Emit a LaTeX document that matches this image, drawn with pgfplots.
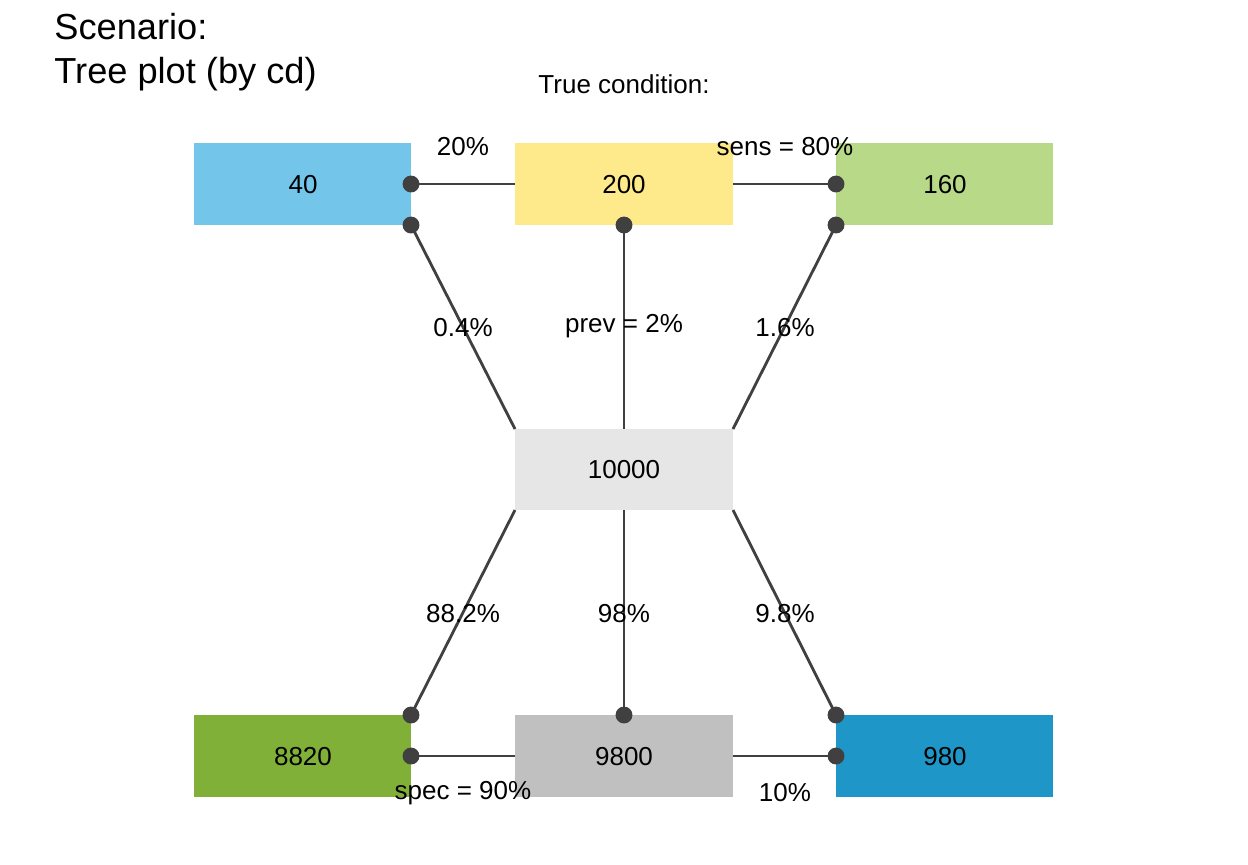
\documentclass[border=0pt]{standalone}
\usepackage{pgfplots}
\pgfplotsset{compat=1.18}
\usepackage{fontspec}
\setmainfont{Liberation Sans}
\definecolor{c1}{HTML}{73C6EA}
\definecolor{c2}{HTML}{FEEA8A}
\definecolor{c3}{HTML}{B8DA88}
\definecolor{c4}{HTML}{E6E6E6}
\definecolor{c5}{HTML}{80B038}
\definecolor{c6}{HTML}{C0C0C0}
\definecolor{c7}{HTML}{1E96C8}
\definecolor{ln}{HTML}{404040}
\newcommand{\bx}[5]{\addplot[fill=#5,draw=none] coordinates {(#1,#3) (#2,#3) (#2,#4) (#1,#4)} --cycle;}
\begin{document}
\begin{tikzpicture}
\begin{axis}[scale only axis,width=12.48cm,height=8.64cm,xmin=0,xmax=1248,ymin=0,ymax=864,y dir=reverse,hide axis,clip=false]
\addplot[fill=white,draw=none] coordinates {(0,0) (1248,0) (1248,864) (0,864)} --cycle;
\bx{194}{411}{143}{225}{c1}
\bx{515}{733}{143}{225}{c2}
\bx{836}{1053}{143}{225}{c3}
\bx{515}{733}{429}{510}{c4}
\bx{194}{411}{715}{797}{c5}
\bx{515}{733}{715}{797}{c6}
\bx{836}{1053}{715}{797}{c7}
\addplot[ln,thick] coordinates {(411,184) (515,184)};
\addplot[ln,thick] coordinates {(733,184) (836,184)};
\addplot[ln,thick] coordinates {(411,225) (515,429)};
\addplot[ln,thick] coordinates {(624,225) (624,429)};
\addplot[ln,thick] coordinates {(836,225) (733,429)};
\addplot[ln,thick] coordinates {(515,510) (411,715)};
\addplot[ln,thick] coordinates {(624,510) (624,715)};
\addplot[ln,thick] coordinates {(733,510) (836,715)};
\addplot[ln,thick] coordinates {(411,756) (515,756)};
\addplot[ln,thick] coordinates {(733,756) (836,756)};
\addplot[only marks,mark=*,mark size=2.2pt,color=ln] coordinates {(411,184) (836,184) (411,225) (624,225) (836,225) (411,715) (624,715) (836,715) (411,756) (836,756)};
\begin{scope}[font=\fontsize{7.4}{9}\selectfont]
\node at (axis cs:303,185) {40};
\node at (axis cs:624,185) {200};
\node at (axis cs:945,185) {160};
\node at (axis cs:624,470) {10000};
\node at (axis cs:303,757) {8820};
\node at (axis cs:624,757) {9800};
\node at (axis cs:945,757) {980};
\node at (axis cs:463,147) {20\%};
\node at (axis cs:785,147) {sens = 80\%};
\node at (axis cs:463,328) {0.4\%};
\node at (axis cs:624,326) {prev = 2\%};
\node at (axis cs:785,328) {1.6\%};
\node at (axis cs:463,614) {88.2\%};
\node at (axis cs:624,614) {98\%};
\node at (axis cs:785,614) {9.8\%};
\node at (axis cs:463,793) {spec = 90\%};
\node at (axis cs:785,793) {10\%};
\node at (axis cs:624,84) {True condition:};
\end{scope}
\node[anchor=west,font=\fontsize{10.3}{13}\selectfont] at (axis cs:42,27) {Scenario:};
\node[anchor=west,font=\fontsize{10.3}{13}\selectfont] at (axis cs:42,74) {Tree plot (by cd)};
\end{axis}
\end{tikzpicture}
\end{document}
